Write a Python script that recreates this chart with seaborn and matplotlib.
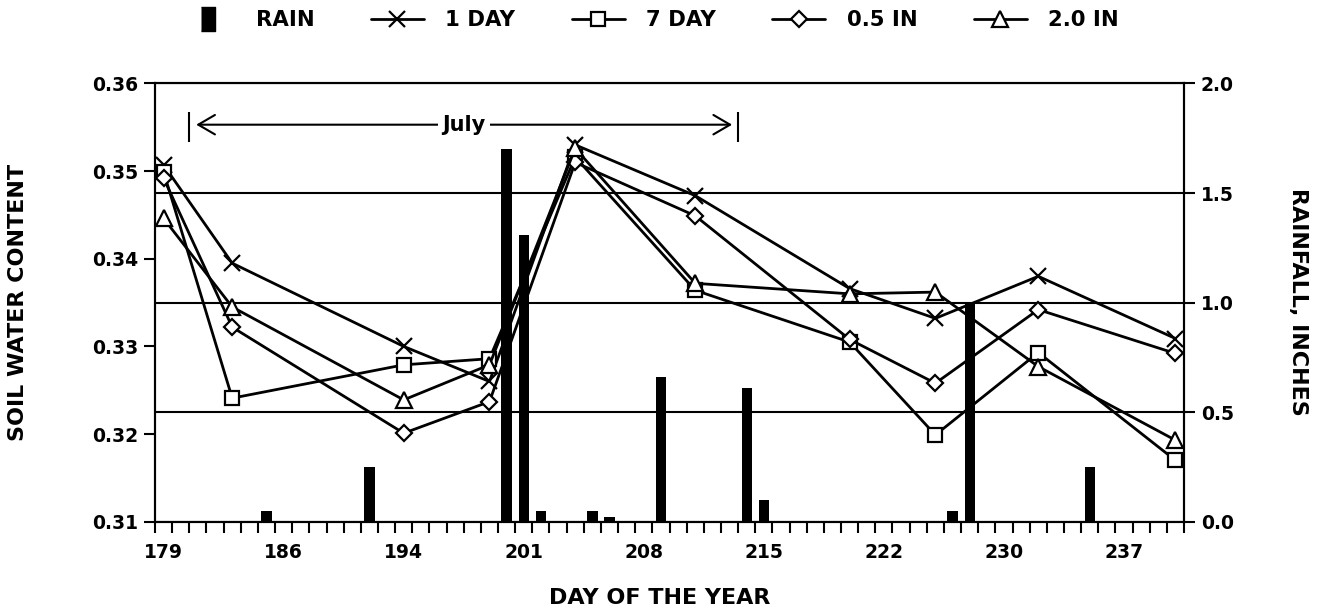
import numpy as np
import pandas as pd
import matplotlib
matplotlib.use("Agg")
import matplotlib.pyplot as plt
from matplotlib.lines import Line2D
from matplotlib.ticker import FixedLocator, FormatStrFormatter
import seaborn as sns

# --------------------------
# data
# --------------------------
days = [179, 183, 193, 198, 203, 210, 219, 224, 230, 238]
one_day = [0.3507, 0.3395, 0.3300, 0.3260, 0.3530, 0.3472, 0.3366, 0.3332, 0.3380, 0.3309]
seven_day = [0.3499, 0.3241, 0.3279, 0.3286, 0.3516, 0.3364, 0.3305, 0.3199, 0.3293, 0.3170]
half_in = [0.3492, 0.3322, 0.3201, 0.3237, 0.3510, 0.3449, 0.3308, 0.3258, 0.3342, 0.3292]
two_in = [0.3446, 0.3345, 0.3239, 0.3279, 0.3526, 0.3372, 0.3360, 0.3362, 0.3277, 0.3193]

rain_day = [185, 191, 199, 200, 201, 204, 205, 208, 213, 214, 225, 226, 233]
rain_in = [0.05, 0.25, 1.70, 1.31, 0.05, 0.05, 0.02, 0.66, 0.61, 0.10, 0.05, 1.00, 0.25]

series_names = ["1 DAY", "7 DAY", "0.5 IN", "2.0 IN"]
series_markers = ["x", "s", "D", "^"]
day_ticks = [179, 186, 193, 200, 207, 214, 221, 228, 235]
day_labels = ["179", "186", "194", "201", "208", "215", "222", "230", "237"]
july_start, july_end = 180.5, 212.5

df = pd.DataFrame({
    "day": days * 4,
    "swc": one_day + seven_day + half_in + two_in,
    "series": np.repeat(series_names, len(days)),
})

# --------------------------
# style
# --------------------------
sns.set_theme(style="ticks")
plt.rcParams["font.family"] = ["DejaVu Sans"]
plt.rcParams["font.weight"] = "bold"
plt.rcParams["axes.linewidth"] = 1.5
plt.rcParams["axes.edgecolor"] = "black"
plt.rcParams["text.color"] = "black"
plt.rcParams["xtick.color"] = "black"
plt.rcParams["ytick.color"] = "black"

fig, ax = plt.subplots(figsize=(13.24, 6.13), dpi=100)
fig.subplots_adjust(left=0.1171, right=0.8943, top=0.8638, bottom=0.1489)
ax2 = ax.twinx()

# rain bars on the right axis
sns.barplot(x=rain_day, y=rain_in, native_scale=True, color="black", width=0.6,
            errorbar=None, saturation=1, linewidth=0, ax=ax2)
ax2.set_ylim(0, 2.0)
ax2.set_yticks([0, 0.5, 1.0, 1.5, 2.0])
ax2.yaxis.set_major_formatter(FormatStrFormatter("%.1f"))
ax2.grid(axis="y", color="black", linewidth=1.5)
ax2.set_ylabel("")
ax2.tick_params(axis="y", length=8, width=1.5, direction="out", labelsize=13.5, pad=4)

# soil water lines on the left axis (seaborn won't mix x with filled markers,
# so draw with filled ones and swap the first to 'x' afterwards)
sns.lineplot(data=df, x="day", y="swc", style="series", style_order=series_names,
             markers=["o", "s", "D", "^"], dashes=False, color="black", lw=2,
             mfc="white", mec="black", mew=1.6, ms=10, errorbar=None,
             legend=False, ax=ax)
lines = list(ax.get_lines())
for ln, m in zip(lines, series_markers):
    ln.set_marker(m)
    if m == "x":
        ln.set_markersize(11)
    if m == "D":
        ln.set_markersize(8)
    if m == "^":
        ln.set_markersize(11)

ax.set_zorder(ax2.get_zorder() + 1)
ax.patch.set_visible(False)

ax.set_ylim(0.31, 0.36)
ax.set_yticks(np.arange(0.31, 0.3601, 0.01))
ax.yaxis.set_major_formatter(FormatStrFormatter("%.2f"))
ax.tick_params(axis="y", length=8, width=1.5, direction="out", labelsize=13.5, pad=4)
ax.set_xlabel("")
ax.set_ylabel("")

ax.set_xlim(178.5, 238.5)
ax.set_xticks(day_ticks, day_labels)
ax.xaxis.set_minor_locator(FixedLocator(np.arange(178.5, 239, 1)))
ax.tick_params(axis="x", which="major", length=0, pad=15, labelsize=13.5)
ax.tick_params(axis="x", which="minor", length=8, width=1.5, direction="out")

# July bracket
y_july = 0.3553
ax.annotate("", xy=(july_start + 0.4, y_july), xytext=(july_end - 0.35, y_july),
            arrowprops=dict(arrowstyle="<->, head_length=0.6, head_width=0.35",
                            lw=1.5, color="black", shrinkA=0, shrinkB=0,
                            mutation_scale=20))
ax.vlines([july_start, july_end], 0.3533, 0.3567, color="black", lw=1.5)
ax.text((july_start + july_end) / 2, y_july, "July", ha="center", va="center",
        fontsize=15, fontweight="bold", zorder=5,
        bbox=dict(facecolor="white", edgecolor="none", pad=3))

# axis titles
fig.text(18 / 1324, 1 - 302 / 613, "SOIL WATER CONTENT", rotation=90,
         ha="center", va="center", fontsize=16, fontweight="bold")
fig.text(1298 / 1324, 1 - 302 / 613, "RAINFALL, INCHES", rotation=270,
         ha="center", va="center", fontsize=16, fontweight="bold")
fig.text(660 / 1324, 1 - 598 / 613, "DAY OF THE YEAR",
         ha="center", va="center", fontsize=16, fontweight="bold")

# legend across the top
rain_handle = Line2D([], [], ls="none", color="black", ms=17,
                     marker=[(-0.28, -0.5), (0.28, -0.5), (0.28, 0.5), (-0.28, 0.5)])
fig.legend([rain_handle] + lines, ["RAIN"] + series_names, loc="center",
           bbox_to_anchor=(0.491, 1 - 20 / 613), ncol=5, frameon=False,
           fontsize=15.3, handlelength=2.5, handletextpad=1.0, columnspacing=2.65)

plt.savefig("out.png", dpi=100)
